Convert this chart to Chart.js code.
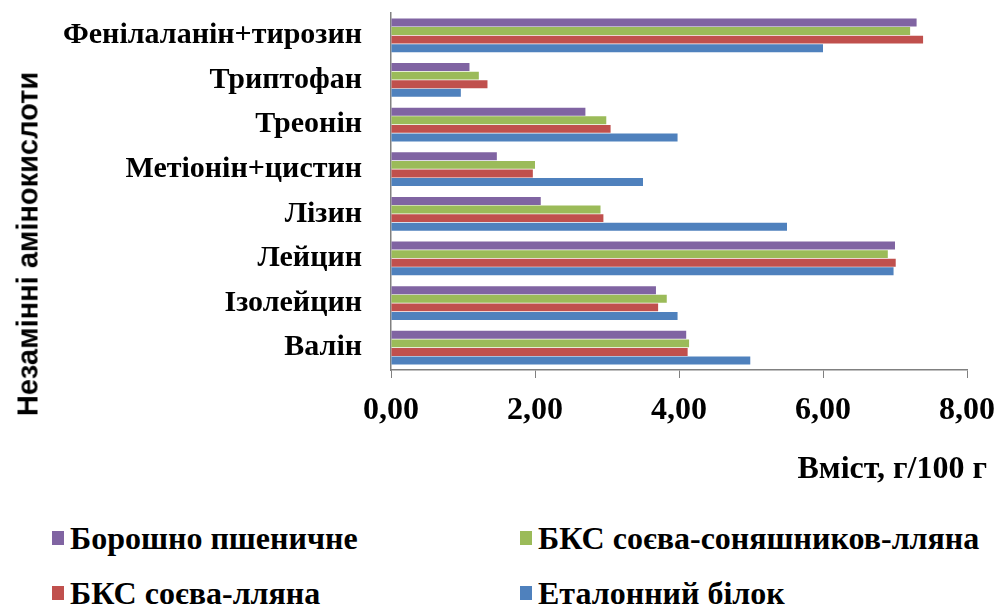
<!DOCTYPE html>
<html>
<head>
<meta charset="utf-8">
<script src="https://cdn.jsdelivr.net/npm/chart.js@4.4.1/dist/chart.umd.min.js"></script>
<style>
  html, body { margin: 0; padding: 0; background: #fff; }
  #wrap { position: relative; width: 1002px; height: 607px; overflow: hidden; }
  #chartBox { position: absolute; left: 0; top: 0; width: 1002px; height: 500px; }
  .serif { font: bold 32px/32px "Liberation Serif", "Times New Roman", serif; color: #000; white-space: nowrap; }
  .legend-item { position: absolute; display: flex; align-items: center; }
  .legend-item span.box { display: inline-block; width: 12px; height: 14px; margin-right: 6px; }
  #xTitle { position: absolute; right: 15px; top: 451px; }
  #yTitle { position: absolute; left: 28px; top: 244px; transform: translate(-50%, -50%) rotate(-90deg);
    font: bold 29px/29px "Liberation Sans", Arial, sans-serif; color: #000; white-space: nowrap; }
</style>
</head>
<body>
<div id="wrap">
  <div id="chartBox"><canvas id="chart"></canvas></div>
  <div id="yTitle">Незамінні амінокислоти</div>
  <div id="xTitle" class="serif">Вміст, г/100 г</div>
  <div id="legend"></div>
</div>
<script>
// Data
const categories = ['Фенілаланін+тирозин', 'Триптофан', 'Треонін', 'Метіонін+цистин', 'Лізин', 'Лейцин', 'Ізолейцин', 'Валін'];
const seriesNames = ['Борошно пшеничне', 'БКС соєва-соняшников-лляна', 'БКС соєва-лляна', 'Еталонний білок'];
const flourValues = [7.30, 1.09, 2.70, 1.47, 2.08, 7.00, 3.68, 4.10];
const mixSunValues = [7.21, 1.22, 2.99, 2.00, 2.91, 6.90, 3.83, 4.14];
const mixFlaxValues = [7.39, 1.34, 3.05, 1.97, 2.95, 7.01, 3.71, 4.12];
const referenceValues = [6.00, 0.97, 3.98, 3.50, 5.50, 6.98, 3.98, 4.99];
const xTicks = [0, 2, 4, 6, 8];
const colors = ['#8064A2', '#9BBB59', '#C0504D', '#4F81BD'];

const serif = '"Liberation Serif", "Times New Roman", serif';
const allValues = [flourValues, mixSunValues, mixFlaxValues, referenceValues];

const datasets = allValues.map((vals, i) => ({
    label: seriesNames[i],
    data: vals,
    backgroundColor: colors[i],
    borderWidth: 0,
    categoryPercentage: 0.77,
    barPercentage: 0.92
}));

new Chart(document.getElementById('chart'), {
    type: 'bar',
    data: { labels: categories, datasets: datasets },
    options: {
        indexAxis: 'y',
        responsive: true,
        maintainAspectRatio: false,
        animation: false,
        layout: { padding: { left: 0, right: 35, top: 13, bottom: 0 } },
        plugins: {
            legend: { display: false },
            tooltip: { enabled: false }
        },
        scales: {
            x: {
                min: xTicks[0],
                max: xTicks[xTicks.length - 1],
                afterBuildTicks: s => { s.ticks = xTicks.map(v => ({ value: v })); },
                ticks: {
                    color: '#000',
                    padding: 14,
                    maxRotation: 0,
                    font: { family: serif, size: 32, weight: 'bold' },
                    callback: v => v.toFixed(2).replace('.', ',')
                },
                grid: { display: true, drawOnChartArea: false, drawTicks: true, tickLength: 8, color: '#808080' },
                border: { display: true, color: '#808080', width: 1.5 },
                afterFit: s => {
                    s.height = 130;
                    // labels may hang past the plot edges, as in the original
                    s.paddingLeft = 0;
                    s.paddingRight = 0;
                }
            },
            y: {
                ticks: {
                    color: '#000',
                    padding: 29,
                    autoSkip: false,
                    font: { family: serif, size: 30, weight: 'bold' }
                },
                grid: { display: false, drawTicks: false },
                border: { display: true, color: '#808080', width: 1.5 },
                afterFit: s => {
                    s.width = 391;
                    s.paddingTop = 0;
                    s.paddingBottom = 0;
                }
            }
        }
    }
});

// Legend in two columns, like the original
const legendPos = [
    { left: 52, top: 522 },
    { left: 520, top: 522 },
    { left: 52, top: 577 },
    { left: 520, top: 577 }
];
const legendEl = document.getElementById('legend');
seriesNames.forEach((name, i) => {
    const item = document.createElement('div');
    item.className = 'legend-item serif';
    item.style.left = legendPos[i].left + 'px';
    item.style.top = legendPos[i].top + 'px';
    item.innerHTML = `<span class="box" style="background:${colors[i]}"></span>${name}`;
    legendEl.appendChild(item);
});
</script>
</body>
</html>
